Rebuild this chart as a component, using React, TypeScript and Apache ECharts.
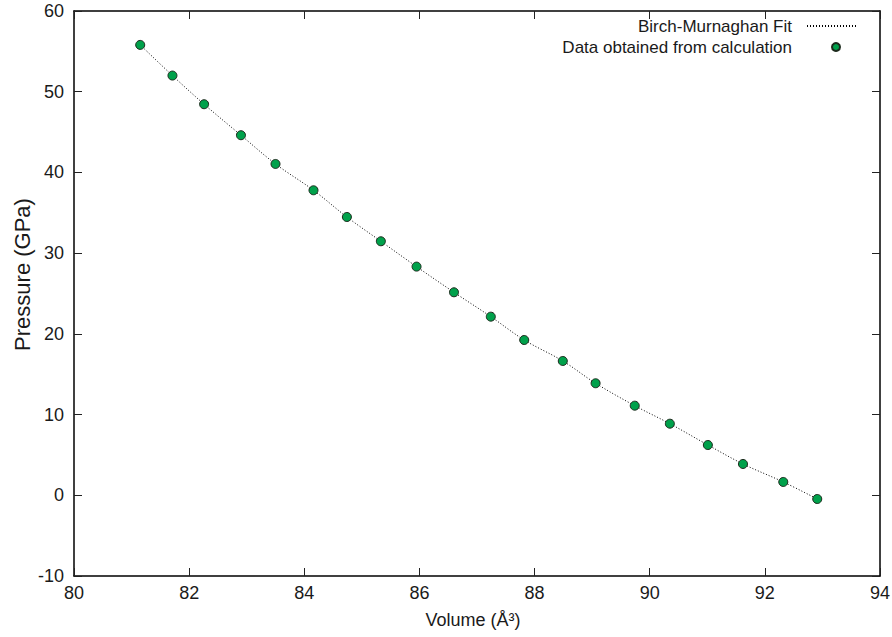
import React, { useEffect, useRef } from "react";
import * as echarts from "echarts";

const volumes: number[] = [
  81.15, 81.71, 82.26, 82.9, 83.5, 84.16, 84.74, 85.33, 85.95, 86.6,
  87.24, 87.82, 88.49, 89.06, 89.74, 90.35, 91.01, 91.62, 92.32, 92.91,
];
const pressures: number[] = [
  55.8, 52.0, 48.45, 44.61, 41.05, 37.79, 34.48, 31.47, 28.33, 25.15,
  22.13, 19.24, 16.64, 13.88, 11.1, 8.87, 6.23, 3.88, 1.65, -0.46,
];
const fitName = "Birch-Murnaghan Fit";
const dataName = "Data obtained from calculation";
const xTitle = "Volume (Å³)";
const yTitle = "Pressure (GPa)";

const FONT = "'Liberation Sans', Arial, Helvetica, sans-serif";
const TXT = "#1a1a1a";

export default function App() {
  const ref = useRef<HTMLDivElement>(null);
  useEffect(() => {
    if (!ref.current) return;
    const chart = echarts.init(ref.current, undefined, { renderer: "svg" });
    const pts = volumes.map((v, i) => [v, pressures[i]]);
    const axisLine = { show: true, onZero: false, lineStyle: { color: "#000", width: 1.5 } };
    const tick = { show: true, inside: true, length: 8, lineStyle: { color: "#222", width: 1 } };
    const legendText = (pr: number) => ({
      fontFamily: FONT,
      fontSize: 17,
      color: TXT,
      lineHeight: 20,
      padding: [0, pr, 0, 0],
    });
    chart.setOption({
      animation: false,
      backgroundColor: "#fff",
      textStyle: { fontFamily: FONT },
      grid: {
        left: 74,
        right: 12,
        top: 11,
        bottom: 61,
        containLabel: false,
        outerBoundsMode: "none",
      },
      legend: [
        {
          data: [{ name: fitName, itemStyle: { opacity: 0 } }],
          right: 35,
          top: 16,
          padding: 0,
          align: "right",
          itemWidth: 49,
          itemHeight: 10,
          textStyle: legendText(10),
        },
        {
          data: [dataName],
          right: 51,
          top: 37,
          padding: 0,
          align: "right",
          itemWidth: 8,
          itemHeight: 8,
          textStyle: legendText(35),
        },
      ],
      xAxis: [
        {
          type: "value",
          min: 80,
          max: 94,
          interval: 2,
          name: xTitle,
          nameLocation: "middle",
          nameGap: 35,
          nameTextStyle: { fontFamily: FONT, fontSize: 18, color: TXT, padding: [0, 8, 0, 0] },
          axisLine,
          axisTick: tick,
          axisLabel: { fontFamily: FONT, fontSize: 18, color: TXT, margin: 8 },
          splitLine: { show: false },
        },
        {
          type: "value",
          position: "top",
          min: 80,
          max: 94,
          interval: 2,
          axisLine,
          axisTick: tick,
          axisLabel: { show: false },
          splitLine: { show: false },
        },
      ],
      yAxis: [
        {
          type: "value",
          min: -10,
          max: 60,
          interval: 10,
          name: yTitle,
          nameLocation: "middle",
          nameGap: 41,
          nameMoveOverlap: false,
          nameTextStyle: { fontFamily: FONT, fontSize: 22, color: TXT, padding: [0, 0, 0, 38] },
          axisLine,
          axisTick: tick,
          axisLabel: { fontFamily: FONT, fontSize: 18, color: TXT, margin: 10 },
          splitLine: { show: false },
        },
        {
          type: "value",
          position: "right",
          min: -10,
          max: 60,
          interval: 10,
          axisLine,
          axisTick: tick,
          axisLabel: { show: false },
          splitLine: { show: false },
        },
      ],
      series: [
        {
          name: fitName,
          type: "line",
          data: pts,
          smooth: 0.35,
          showSymbol: false,
          symbol: "none",
          lineStyle: { color: "#000", width: 1, type: [1, 2] },
          itemStyle: { color: "#000" },
          z: 2,
        },
        {
          name: dataName,
          type: "scatter",
          data: pts,
          symbol: "circle",
          symbolSize: 9,
          itemStyle: { color: "#00a14b", borderColor: "#1c2a1c", borderWidth: 1, opacity: 1 },
          z: 3,
        },
      ],
    });
    return () => chart.dispose();
  }, []);
  return (
    <div
      ref={ref}
      style={{ position: "fixed", left: 0, top: 0, width: 892, height: 637 }}
    />
  );
}
